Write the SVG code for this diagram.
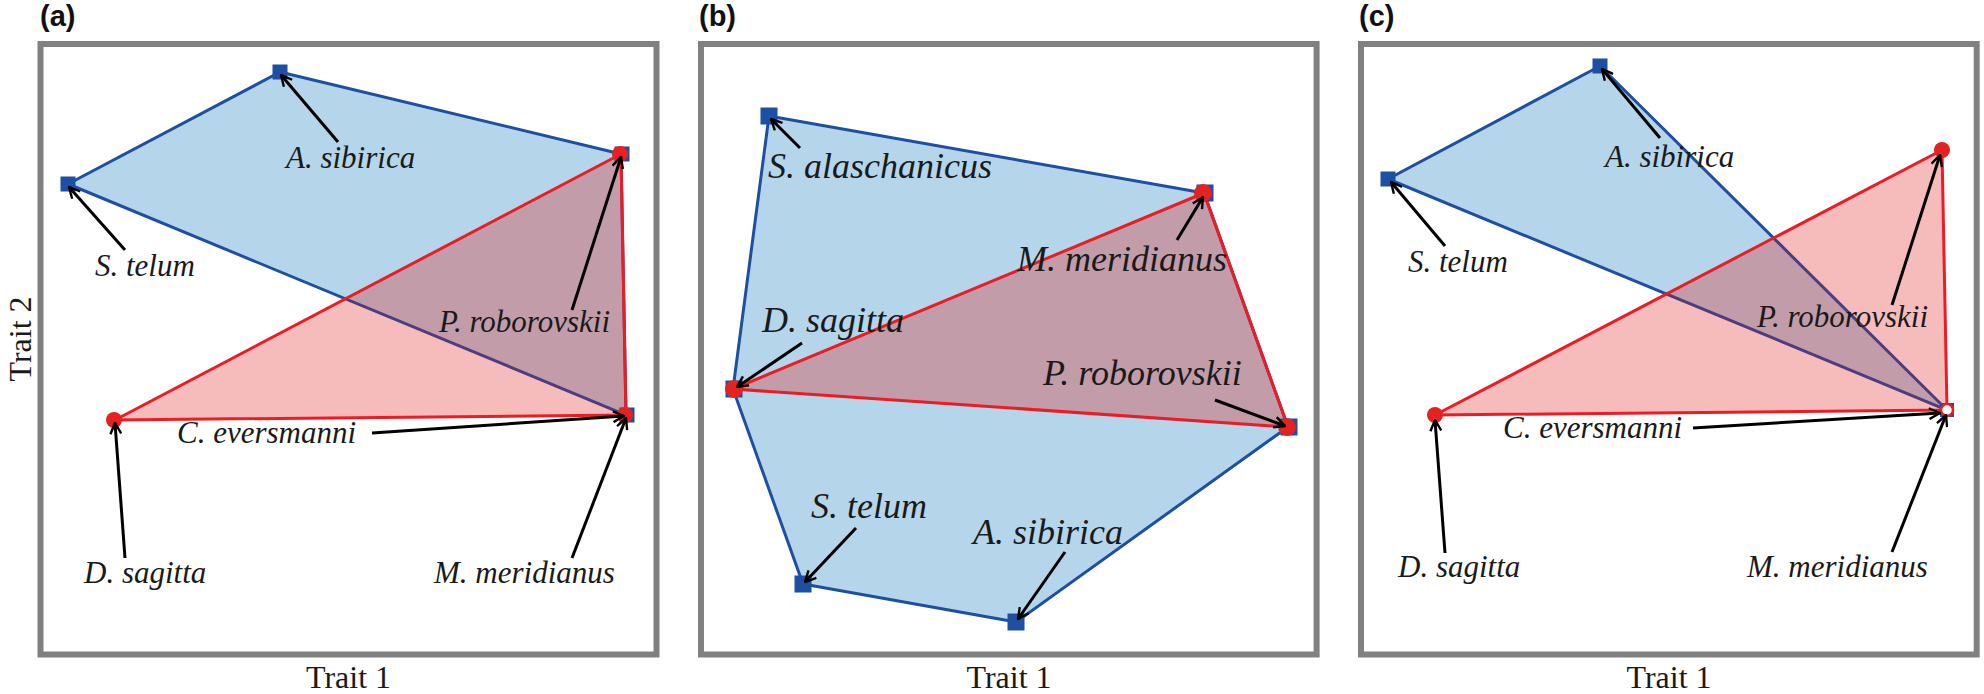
<svg xmlns="http://www.w3.org/2000/svg" width="1984" height="694" viewBox="0 0 1984 694">
<style>
.frame{fill:none;stroke:#808080;stroke-width:6}
.bfill{fill:#B4D5EA;stroke:#1D4FA3;stroke-width:3;stroke-linejoin:round}
.rfill{fill:#F6BCBC;stroke:none}
.ofill{fill:#C29CA8;stroke:#4B3D80;stroke-width:3;stroke-linejoin:round}
.rline{fill:none;stroke:#EC1C24;stroke-width:3;stroke-linejoin:round}
.sq{fill:#1D4FA3}
.dot{fill:#E42320}
.arr{fill:none;stroke:#000;stroke-width:3;marker-end:url(#ah)}
.lab{font-family:"Liberation Serif","Times New Roman",serif;font-style:italic;fill:#1a1a1a}
.s31{font-size:31px}
.s36{font-size:36px}
.axis{font-family:"Liberation Serif","Times New Roman",serif;font-size:32px;fill:#1a1a1a;text-anchor:middle}
.pl{font-family:"Liberation Sans",Arial,sans-serif;font-weight:bold;font-size:29px;fill:#111}
</style>
<defs>
<marker id="ah" viewBox="0 0 12 12" refX="11" refY="6" markerWidth="13" markerHeight="13" markerUnits="userSpaceOnUse" orient="auto">
<path d="M1,1 L11,6 L1,11" fill="none" stroke="#000" stroke-width="2.2"/>
</marker>
<clipPath id="ca"><polygon points="115,420 621,154 626,415"/></clipPath>
<clipPath id="cb"><polygon points="733,389 1204,193 1288,427"/></clipPath>
<clipPath id="cc"><polygon points="1435,415 1942,150 1947,410"/></clipPath>
</defs>
<rect width="1984" height="694" fill="#fff"/>

<!-- Panel a -->
<g id="panel-a">
<text class="pl" x="40" y="26">(a)</text>
<rect class="frame" x="40.5" y="44" width="616" height="610.5"/>
<text class="axis" x="348.5" y="688">Trait 1</text>
<text class="axis" transform="translate(31,339) rotate(-90)">Trait 2</text>
<g id="a-hulls">
<polygon class="bfill" points="68,184 280,72 621,154 626,415"/>
<polygon class="rfill" points="115,420 621,154 626,415"/>
<polygon class="ofill" clip-path="url(#ca)" points="68,184 280,72 621,154 626,415"/>
<polygon class="rline" points="115,420 621,154 626,415"/>
</g>
</g>
<g id="a-s-telum"><rect class="sq" x="60.5" y="176.5" width="15" height="15"/><text class="lab s31" x="95" y="276">S. telum</text></g>
<g id="a-a-sibirica"><rect class="sq" x="272.5" y="64.5" width="15" height="15"/><text class="lab s31" x="286" y="168">A. sibirica</text></g>
<g id="a-p-roborovskii"><rect class="sq" x="614.5" y="146.5" width="15" height="15"/><circle class="dot" cx="620" cy="154" r="8"/><text class="lab s31" x="439" y="332">P. roborovskii</text></g>
<g id="a-m-meridianus"><rect class="sq" x="619.5" y="407.5" width="15" height="15"/><circle class="dot" cx="625" cy="415" r="8"/><text class="lab s31" x="434" y="583">M. meridianus</text></g>
<g id="a-d-sagitta"><circle class="dot" cx="114" cy="420" r="8"/><text class="lab s31" x="84" y="583">D. sagitta</text></g>
<g id="a-c-eversmanni"><text class="lab s31" x="177" y="443">C. eversmanni</text></g>
<g id="a-connectors">
<line class="arr" x1="125" y1="250" x2="69" y2="187"/>
<line class="arr" x1="338" y1="142" x2="281" y2="75"/>
<line class="arr" x1="572" y1="310" x2="621" y2="157"/>
<line class="arr" x1="372" y1="433" x2="624" y2="416"/>
<line class="arr" x1="125" y1="558" x2="115" y2="423"/>
<line class="arr" x1="572" y1="558" x2="626" y2="418"/>
</g>

<!-- Panel b -->
<g id="panel-b">
<text class="pl" x="699" y="26">(b)</text>
<rect class="frame" x="701" y="44" width="615.6" height="610.5"/>
<text class="axis" x="1009" y="688">Trait 1</text>
<g id="b-hulls">
<polygon class="bfill" points="769,116 1204,193 1288,427 1016,622 803,584 733,389"/>
<polygon class="rfill" points="733,389 1204,193 1288,427"/>
<polygon class="ofill" clip-path="url(#cb)" points="769,116 1204,193 1288,427 1016,622 803,584 733,389"/>
<polygon class="rline" points="733,389 1204,193 1288,427"/>
</g>
</g>
<g id="b-s-alaschanicus"><rect class="sq" x="760.5" y="107.5" width="17" height="17"/><text class="lab s36" x="768" y="178">S. alaschanicus</text></g>
<g id="b-m-meridianus"><rect class="sq" x="1196.5" y="184.5" width="17" height="17"/><circle class="dot" cx="1203" cy="193" r="9"/><text class="lab s36" x="1017" y="271">M. meridianus</text></g>
<g id="b-d-sagitta"><rect class="sq" x="725.5" y="380.5" width="17" height="17"/><circle class="dot" cx="734" cy="389" r="9"/><text class="lab s36" x="762" y="332">D. sagitta</text></g>
<g id="b-p-roborovskii"><rect class="sq" x="1280.5" y="418.5" width="17" height="17"/><circle class="dot" cx="1287" cy="427" r="9"/><text class="lab s36" x="1043" y="385">P. roborovskii</text></g>
<g id="b-s-telum"><rect class="sq" x="794.5" y="575.5" width="17" height="17"/><text class="lab s36" x="811" y="518">S. telum</text></g>
<g id="b-a-sibirica"><rect class="sq" x="1007.5" y="613.5" width="17" height="17"/><text class="lab s36" x="973" y="544">A. sibirica</text></g>
<g id="b-connectors">
<line class="arr" x1="800" y1="148" x2="771" y2="119"/>
<line class="arr" x1="1177" y1="240" x2="1203" y2="197"/>
<line class="arr" x1="802" y1="343" x2="737" y2="387"/>
<line class="arr" x1="1215" y1="400" x2="1285" y2="426"/>
<line class="arr" x1="856" y1="528" x2="805" y2="582"/>
<line class="arr" x1="1065" y1="552" x2="1018" y2="619"/>
</g>

<!-- Panel c -->
<g id="panel-c">
<text class="pl" x="1359" y="26">(c)</text>
<rect class="frame" x="1361" y="44" width="615.7" height="610.5"/>
<text class="axis" x="1669" y="688">Trait 1</text>
<g id="c-hulls">
<polygon class="bfill" points="1388,179 1600,66 1947,410"/>
<polygon class="rfill" points="1435,415 1942,150 1947,410"/>
<polygon class="ofill" clip-path="url(#cc)" points="1388,179 1600,66 1947,410"/>
<polygon class="rline" points="1435,415 1942,150 1947,410"/>
</g>
</g>
<g id="c-s-telum"><rect class="sq" x="1380.5" y="171.5" width="15" height="15"/><text class="lab s31" x="1408" y="272">S. telum</text></g>
<g id="c-a-sibirica"><rect class="sq" x="1592.5" y="58.5" width="15" height="15"/><text class="lab s31" x="1605" y="167">A. sibirica</text></g>
<g id="c-p-roborovskii"><circle class="dot" cx="1942" cy="150" r="8"/><text class="lab s31" x="1757" y="327">P. roborovskii</text></g>
<g id="c-m-meridianus"><rect class="sq" x="1940" y="403" width="14" height="14"/><circle cx="1947" cy="410" r="6" fill="#fff" stroke="#EC1C24" stroke-width="2.5"/><text class="lab s31" x="1747" y="577">M. meridianus</text></g>
<g id="c-d-sagitta"><circle class="dot" cx="1435" cy="415" r="8"/><text class="lab s31" x="1398" y="577">D. sagitta</text></g>
<g id="c-c-eversmanni"><text class="lab s31" x="1503" y="438">C. eversmanni</text></g>
<g id="c-connectors">
<line class="arr" x1="1445" y1="246" x2="1391" y2="182"/>
<line class="arr" x1="1660" y1="138" x2="1602" y2="69"/>
<line class="arr" x1="1892" y1="305" x2="1940" y2="155"/>
<line class="arr" x1="1693" y1="428" x2="1940" y2="413"/>
<line class="arr" x1="1445" y1="553" x2="1435" y2="420"/>
<line class="arr" x1="1892" y1="552" x2="1946" y2="415"/>
</g>
</svg>
